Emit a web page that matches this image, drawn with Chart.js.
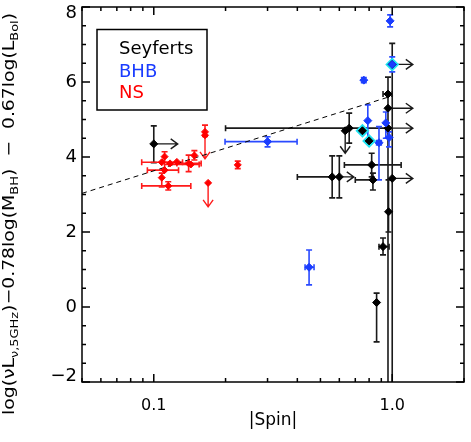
<!DOCTYPE html>
<html>
<head>
<meta charset="utf-8">
<script src="https://cdn.jsdelivr.net/npm/chart.js@4.4.1/dist/chart.umd.min.js"></script>
<style>html,body{margin:0;padding:0;background:#fff;}</style>
</head>
<body>
<canvas id="myChart" width="471" height="442"></canvas>
<script>
// Seyferts
var seyfertSpin   = [0.100, 0.66, 0.635, 0.96, 1.00, 0.96, 0.96, 0.82, 0.83, 0.56, 0.60, 1.00, 0.965, 0.915, 0.86, 0.75, 0.80];
var seyfertVal    = [4.35, 4.77, 4.70, 4.77, 6.47, 5.68, 5.30, 3.79, 3.39, 3.47, 3.47, 3.43, 2.54, 1.61, 0.12, 4.70, 4.43];
var seyfertSpinLo = [null, null, null, 0.20, null, 0.915, null, 0.63, 0.70, 0.40, null, null, null, 0.88, null, null, null];
var seyfertSpinHi = [null, null, null, null, null, 1.00, null, 1.09, null, null, null, null, null, 0.97, null, null, null];
var seyfertValLo  = [3.85, 4.37, null, null, -3, -3, null, 3.47, 3.12, 2.91, 2.91, null, 2.00, 1.39, -0.93, null, null];
var seyfertValHi  = [4.83, 5.17, null, null, 7.03, 6.13, null, 4.10, 3.57, 4.03, 4.03, null, 3.39, 1.84, 0.37, null, null];
var seyfertArrowSpin = [0.126, null, null, 1.22, 1.22, null, 1.22, null, null, null, 0.69, 1.22, null, null, null, null, null];
var seyfertArrowVal  = [null, null, 4.10, null, null, null, null, null, null, null, null, null, null, null, null, null, null];

// black hole binaries
var bhbSpin   = [0.98, 1.00, 0.76, 0.30, 0.79, 0.94, 0.97, 0.88, 0.448];
var bhbVal    = [7.63, 6.47, 6.05, 4.41, 4.97, 4.91, 4.52, 4.38, 1.06];
var bhbSpinLo = [null, null, null, 0.199, null, null, null, 0.86, 0.431];
var bhbSpinHi = [null, null, null, 0.399, null, null, null, 0.90, 0.47];
var bhbValLo  = [7.47, 6.27, 5.98, 4.27, 4.45, 4.50, 4.27, 3.39, 0.59];
var bhbValHi  = [7.79, 6.67, 6.12, 4.54, 5.39, 5.20, 4.67, 4.81, 1.52];

// neutron stars
var nsSpin   = [0.164, 0.164, 0.148, 0.111, 0.125, 0.117, 0.140, 0.143, 0.111, 0.108, 0.115, 0.169, 0.225, 0.108];
var nsVal    = [4.67, 4.58, 4.04, 4.01, 3.87, 3.83, 3.83, 3.80, 3.65, 3.45, 3.23, 3.31, 3.79, 3.86];
var nsSpinLo = [null, null, null, null, null, null, 0.125, 0.111, 0.094, null, 0.089, null, null, 0.089];
var nsSpinHi = [null, null, null, null, null, null, 0.158, 0.155, 0.127, null, 0.143, null, null, 0.132];
var nsValLo  = [4.55, null, 3.92, 3.86, null, null, 3.61, null, null, 3.20, 3.12, null, 3.69, null];
var nsValHi  = [4.85, null, 4.17, 4.14, null, null, 4.05, null, null, 3.57, 3.34, null, 3.89, null];
var nsArrowVal = [null, 3.95, null, null, null, null, null, null, null, null, null, 2.67, null, null];

// highlighted sources (cyan diamonds)
var cyanSpin = [0.75, 0.80, 1.00];
var cyanVal  = [4.70, 4.43, 6.47];

// dashed relation
var fitSpin = [0.05, 1.0];
var fitVal  = [3.03, 5.63];

var yTickValues = [-2, 0, 2, 4, 6, 8];
var yTickLabels = ['\u22122', '0', '2', '4', '6', '8'];
var xTickValues = [0.1, 1.0];
var xTickLabels = ['0.1', '1.0'];
var xMinorTicks = [0.05, 0.06, 0.07, 0.08, 0.09, 0.2, 0.3, 0.4, 0.5, 0.6, 0.7, 0.8, 0.9, 2.0];

var legendNames = ['Seyferts', 'BHB', 'NS'];
var legendColors = ['#000000', '#1a3cff', '#ff0000'];

function pts(xs, ys) {
  return xs.map(function (x, i) { return { x: x, y: ys[i] }; });
}
function nulls(n) { var a = []; for (var i = 0; i < n; i++) a.push(null); return a; }

var FONT = '"DejaVu Sans", sans-serif';

var errorPlugin = {
  id: 'errorBars',
  beforeDatasetsDraw: function (chart) {
    var ctx = chart.ctx, xs = chart.scales.x, ys = chart.scales.y, a = chart.chartArea;
    ctx.save();
    ctx.beginPath();
    ctx.rect(a.left, a.top, a.right - a.left, a.bottom - a.top);
    ctx.clip();
    chart.data.datasets.forEach(function (ds) {
      if (!ds.errSpin) return;
      ctx.strokeStyle = ds.barColor;
      ctx.lineWidth = 1.6;
      ds.data.forEach(function (p, i) {
        var px = xs.getPixelForValue(p.x), py = ys.getPixelForValue(p.y);
        var xl = ds.errSpin[0][i], xh = ds.errSpin[1][i];
        var yl = ds.errVal[0][i], yh = ds.errVal[1][i];
        var c = 3;
        ctx.beginPath();
        if (xl != null || xh != null) {
          var x1 = xl != null ? xs.getPixelForValue(xl) : px;
          var x2 = xh != null ? xs.getPixelForValue(xh) : px;
          ctx.moveTo(x1, py); ctx.lineTo(x2, py);
          if (xl != null) { ctx.moveTo(x1, py - c); ctx.lineTo(x1, py + c); }
          if (xh != null) { ctx.moveTo(x2, py - c); ctx.lineTo(x2, py + c); }
        }
        if (yl != null || yh != null) {
          var y1 = yl != null ? ys.getPixelForValue(yl) : py;
          var y2 = yh != null ? ys.getPixelForValue(yh) : py;
          ctx.moveTo(px, y1); ctx.lineTo(px, y2);
          if (yl != null) { ctx.moveTo(px - c, y1); ctx.lineTo(px + c, y1); }
          if (yh != null) { ctx.moveTo(px - c, y2); ctx.lineTo(px + c, y2); }
        }
        ctx.stroke();
        ctx.lineWidth = 1.4;
        if (ds.arrowSpin && ds.arrowSpin[i] != null) {
          var tx = xs.getPixelForValue(ds.arrowSpin[i]);
          ctx.beginPath();
          ctx.moveTo(px, py); ctx.lineTo(tx, py);
          ctx.moveTo(tx - 7, py - 5); ctx.lineTo(tx, py); ctx.lineTo(tx - 7, py + 5);
          ctx.stroke();
        }
        if (ds.arrowVal && ds.arrowVal[i] != null) {
          var ty = ys.getPixelForValue(ds.arrowVal[i]);
          ctx.beginPath();
          ctx.moveTo(px, py); ctx.lineTo(px, ty);
          ctx.moveTo(px - 5, ty - 7); ctx.lineTo(px, ty); ctx.lineTo(px + 5, ty - 7);
          ctx.stroke();
        }
        ctx.lineWidth = 1.6;
      });
    });
    ctx.restore();
  }
};

var framePlugin = {
  id: 'frame',
  afterDraw: function (chart) {
    var ctx = chart.ctx, xs = chart.scales.x, ys = chart.scales.y, a = chart.chartArea;
    ctx.save();
    ctx.strokeStyle = '#000';
    ctx.lineWidth = 1.5;
    ctx.strokeRect(a.left, a.top, a.right - a.left, a.bottom - a.top);
    ctx.beginPath();
    for (var v = -2; v <= 8.001; v += 0.5) {
      var py = ys.getPixelForValue(v);
      var len = (Math.round(v) === v && v % 2 === 0) ? 8 : 4;
      ctx.moveTo(a.left, py); ctx.lineTo(a.left + len, py);
      ctx.moveTo(a.right, py); ctx.lineTo(a.right - len, py);
    }
    xMinorTicks.forEach(function (t) {
      var px = xs.getPixelForValue(t);
      ctx.moveTo(px, a.bottom); ctx.lineTo(px, a.bottom - 4);
      ctx.moveTo(px, a.top); ctx.lineTo(px, a.top + 4);
    });
    xTickValues.forEach(function (t) {
      var px = xs.getPixelForValue(t);
      ctx.moveTo(px, a.bottom); ctx.lineTo(px, a.bottom - 8);
      ctx.moveTo(px, a.top); ctx.lineTo(px, a.top + 8);
    });
    ctx.stroke();

    // tick labels
    ctx.fillStyle = '#000';
    ctx.font = '18px ' + FONT;
    ctx.textAlign = 'right';
    ctx.textBaseline = 'middle';
    yTickValues.forEach(function (v, i) {
      var py = ys.getPixelForValue(v);
      py = Math.min(Math.max(py, a.top + 6), a.bottom - 6);
      ctx.fillText(yTickLabels[i], a.left - 5, py);
    });
    ctx.font = '16px ' + FONT;
    ctx.textAlign = 'center';
    xTickValues.forEach(function (v, i) {
      ctx.fillText(xTickLabels[i], xs.getPixelForValue(v), a.bottom + 24);
    });
    ctx.font = '17px ' + FONT;
    ctx.textBaseline = 'alphabetic';
    ctx.fillText('|Spin|', (a.left + a.right) / 2, a.bottom + 43);

    // y title, rotated, with subscripts
    var segs = [
      ['log(', 0], ['\u03bd', 0], ['L', 0], ['\u03bd,5GHz', 1], [')\u22120.78log(M', 0], ['BH', 1],
      [')  \u2212  0.67log(L', 0], ['Bol', 1], [')', 0]
    ];
    var mainF = '16px ' + FONT, subF = '11px ' + FONT;
    var total = 0;
    segs.forEach(function (s) { ctx.font = s[1] ? subF : mainF; total += ctx.measureText(s[0]).width; });
    var yStart = 415, yEnd = 13;
    var stretch = (yStart - yEnd) / total;
    ctx.translate(14, yStart);
    ctx.rotate(-Math.PI / 2);
    ctx.scale(stretch, 1);
    ctx.textAlign = 'left';
    var cx = 0;
    segs.forEach(function (s) {
      ctx.font = s[1] ? subF : mainF;
      ctx.fillText(s[0], cx, s[1] ? 4 : 0);
      cx += ctx.measureText(s[0]).width;
    });
    ctx.restore();

    // legend box
    ctx.save();
    ctx.strokeStyle = '#000';
    ctx.lineWidth = 1.5;
    ctx.strokeRect(97, 29.5, 110, 80.5);
    ctx.font = '18px ' + FONT;
    ctx.textAlign = 'left';
    ctx.textBaseline = 'alphabetic';
    var base = [54, 76.5, 97.5];
    legendNames.forEach(function (n, i) {
      ctx.fillStyle = legendColors[i];
      ctx.fillText(n, 119, base[i]);
    });
    ctx.restore();
  }
};

var ctx = document.getElementById('myChart').getContext('2d');
var myChart = new Chart(ctx, {
  type: 'scatter',
  data: {
    datasets: [{
      label: 'fit',
      type: 'line',
      data: pts(fitSpin, fitVal),
      showLine: true,
      borderColor: '#000',
      borderWidth: 1,
      borderDash: [5, 4],
      pointRadius: 0,
      fill: false,
      order: 6
    }, {
      label: 'highlight',
      data: pts(cyanSpin, cyanVal),
      pointStyle: 'rectRot',
      pointRadius: 7,
      backgroundColor: '#1ee3f2',
      borderColor: '#1ee3f2',
      borderWidth: 0,
      order: 5
    }, {
      label: 'Seyferts',
      data: pts(seyfertSpin, seyfertVal),
      pointStyle: 'rectRot',
      pointRadius: 4,
      backgroundColor: '#000',
      borderColor: '#000',
      borderWidth: 1,
      errSpin: [seyfertSpinLo, seyfertSpinHi],
      errVal: [seyfertValLo, seyfertValHi],
      arrowSpin: seyfertArrowSpin,
      arrowVal: seyfertArrowVal,
      barColor: '#1a1a1a',
      order: 4
    }, {
      label: 'BHB',
      data: pts(bhbSpin, bhbVal),
      pointStyle: 'rectRot',
      pointRadius: 4,
      backgroundColor: '#1a3cff',
      borderColor: '#1a3cff',
      borderWidth: 1,
      errSpin: [bhbSpinLo, bhbSpinHi],
      errVal: [bhbValLo, bhbValHi],
      barColor: '#2a4aff',
      order: 3
    }, {
      label: 'NS',
      data: pts(nsSpin, nsVal),
      pointStyle: 'rectRot',
      pointRadius: 3.5,
      backgroundColor: '#ff0000',
      borderColor: '#ff0000',
      borderWidth: 1,
      errSpin: [nsSpinLo, nsSpinHi],
      errVal: [nsValLo, nsValHi],
      arrowVal: nsArrowVal,
      barColor: '#ff1a1a',
      order: 2
    }]
  },
  options: {
    responsive: false,
    animation: false,
    layout: { padding: { top: 7, right: 2, left: 0, bottom: 0 } },
    plugins: { legend: { display: false }, tooltip: { enabled: false } },
    scales: {
      x: {
        type: 'logarithmic',
        min: 0.05,
        max: 2.0,
        ticks: { display: false },
        grid: { display: false },
        border: { display: false },
        afterFit: function (s) { s.height = 60; }
      },
      y: {
        min: -2,
        max: 8,
        ticks: { display: false },
        grid: { display: false },
        border: { display: false },
        afterFit: function (s) { s.width = 82; }
      }
    }
  },
  plugins: [errorPlugin, framePlugin]
});
</script>
</body>
</html>
